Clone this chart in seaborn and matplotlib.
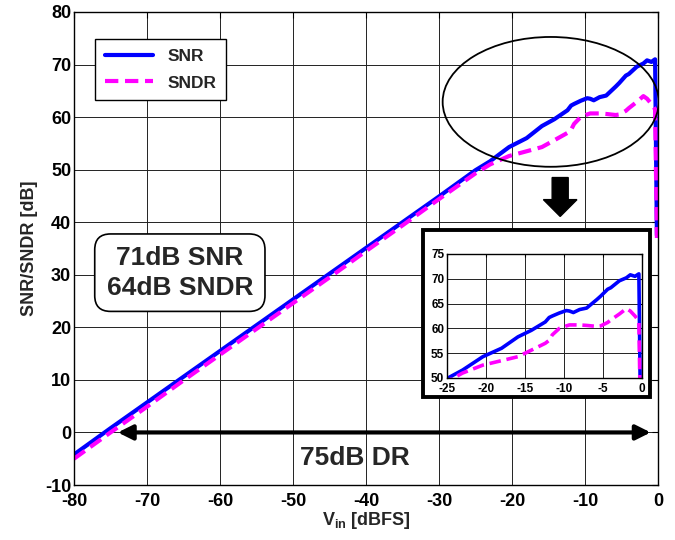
import matplotlib
matplotlib.use("Agg")
import matplotlib.pyplot as plt
import matplotlib.patches as mpatches
import seaborn as sns
import pandas as pd

# ---- data ----
vin = [-80, -75, -70, -65, -60, -55, -50, -45, -40, -35, -30, -25, -23, -20.4, -18,
       -15.9, -14.2, -12.4, -11.9, -11.5, -10.6, -9.7, -9.3, -8.8, -8.0, -7.1, -5.8,
       -5.3, -4.4, -4.0, -2.9, -2.0, -1.5, -0.9, -0.4, -0.15]
snr = [-4.2, 0.8, 5.7, 10.6, 15.5, 20.4, 25.3, 30.2, 35.1, 40.0, 44.9, 49.9, 51.6, 54.3, 56.0,
       58.3, 59.6, 61.3, 62.2, 62.5, 63.1, 63.6, 63.5, 63.2, 63.8, 64.1, 65.8,
       66.5, 67.9, 68.2, 69.6, 70.2, 70.8, 70.5, 71.0, 37.5]
sndr = [-5.0, 0.0, 4.9, 9.9, 14.8, 19.7, 24.6, 29.5, 34.5, 39.4, 44.4, 49.3, 51.0, 52.6, 53.5,
        54.3, 55.6, 57.0, 57.6, 58.7, 60.0, 60.5, 60.7, 60.7, 60.7, 60.6, 60.4,
        60.5, 61.2, 61.7, 62.9, 64.0, 63.5, 62.5, 61.5, 37.0]
xticks_main = [-80, -70, -60, -50, -40, -30, -20, -10, 0]
yticks_main = [-10, 0, 10, 20, 30, 40, 50, 60, 70, 80]
xticks_inset = [-25, -20, -15, -10, -5, 0]
yticks_inset = [50, 55, 60, 65, 70, 75]

df = pd.DataFrame({"Vin": vin, "SNR": snr, "SNDR": sndr})

sns.set_theme(style="white")
plt.rcParams["font.family"] = ["Liberation Sans", "DejaVu Sans"]
plt.rcParams["font.weight"] = "bold"
plt.rcParams["axes.labelweight"] = "bold"
plt.rcParams["axes.unicode_minus"] = False
plt.rcParams["mathtext.fontset"] = "custom"
plt.rcParams["mathtext.rm"] = "Liberation Sans:bold"
plt.rcParams["mathtext.bf"] = "Liberation Sans:bold"
plt.rcParams["mathtext.it"] = "Liberation Sans:bold"

BLUE = "#0000FF"
MAG = "#FF00FF"

fig = plt.figure(figsize=(6.75, 5.4), dpi=100)
ax = fig.add_axes([74 / 675, 1 - 485 / 540, (658 - 74) / 675, (485 - 12) / 540])


def draw(a, lw):
    sns.lineplot(data=df, x="Vin", y="SNR", ax=a, color=BLUE, lw=lw, label="SNR")
    sns.lineplot(data=df, x="Vin", y="SNDR", ax=a, color=MAG, lw=lw, label="SNDR")
    a.lines[-1].set_dashes((3.2, 1.6))


def style(a, fs, tl, xpad):
    a.grid(True, color="#222222", lw=0.7)
    for s in a.spines.values():
        s.set_color("black")
        s.set_linewidth(1.0)
    a.tick_params(direction="in", top=True, right=True, length=tl, width=0.8,
                  labelsize=fs, colors="black", pad=2)
    a.tick_params(axis="x", pad=xpad)
    for lbl in a.get_xticklabels() + a.get_yticklabels():
        lbl.set_fontweight("bold")


draw(ax, 3)
ax.set_xlim(-80, 0)
ax.set_ylim(-10, 80)
ax.set_xticks(xticks_main)
ax.set_yticks(yticks_main)
style(ax, 13, 4, 6)
ax.set_xlabel(r"V$_{\mathbf{in}}$ [dBFS]", fontsize=13, fontweight="bold", labelpad=0)
ax.set_ylabel("SNR/SNDR [dB]", fontsize=13, fontweight="bold", labelpad=5)

leg = ax.legend(loc="upper left", bbox_to_anchor=(0.036, 0.942), borderaxespad=0,
                fancybox=False, framealpha=1, edgecolor="black",
                prop={"weight": "bold", "size": 12.5}, handlelength=2.8,
                borderpad=0.55, labelspacing=0.65)
leg.get_frame().set_linewidth(1.0)

# ellipse highlighting the compressed region
ax.add_patch(mpatches.Ellipse((-14.7, 62.9), 29.6, 24.7, fill=False, ec="black", lw=1.3, zorder=5))
# down arrow
ax.add_patch(mpatches.FancyArrow(-13.4, 48.5, 0, -7.4, width=2.2, head_width=4.6,
                                 head_length=3.2, length_includes_head=True,
                                 color="black", zorder=5))
# DR double arrow
ax.annotate("", xy=(-1.0, 0), xytext=(-74.0, 0),
            arrowprops=dict(arrowstyle="<|-|>", color="black", lw=3, mutation_scale=22,
                            shrinkA=0, shrinkB=0), zorder=6)
ax.text(-41.5, -4.8, "75dB DR", fontsize=19, fontweight="bold", ha="center", va="center")
ax.text(-65.5, 30.4, "71dB SNR\n64dB SNDR", fontsize=19, fontweight="bold", ha="center",
        va="center", linespacing=1.3,
        bbox=dict(boxstyle="round,pad=0.45,rounding_size=0.6", fc="white", ec="black", lw=1.2))

# inset frame
fig.patches.append(mpatches.Rectangle((423 / 675, 1 - 397 / 540), (650 - 423) / 675,
                                      (397 - 230) / 540, transform=fig.transFigure,
                                      fill=True, fc="white", ec="black", lw=2.8, zorder=10))
ins = fig.add_axes([447 / 675, 1 - 378 / 540, (642 - 447) / 675, (378 - 254) / 540], zorder=11)
draw(ins, 2.6)
if ins.get_legend():
    ins.get_legend().remove()
ins.set_xlim(-25, 0)
ins.set_ylim(50, 75)
ins.set_xticks(xticks_inset)
ins.set_yticks(yticks_inset)
style(ins, 8.5, 2, 3.5)
ins.set_xlabel("")
ins.set_ylabel("")

fig.savefig("out.png", dpi=100)
